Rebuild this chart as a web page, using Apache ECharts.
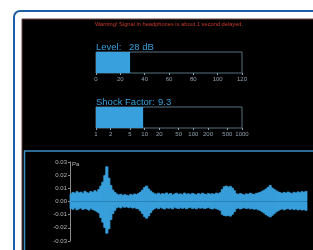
<!DOCTYPE html>
<html>
<head>
<meta charset="utf-8">
<script src="https://cdn.jsdelivr.net/npm/echarts@6/dist/echarts.min.js"></script>
<style>
  html, body { margin: 0; padding: 0; background: #fff; }
  #chart { width: 313px; height: 250px; }
</style>
</head>
<body>
<div id="chart"></div>
<script>
// meter readings
const levelValue = 28
const levelTicks = [0, 20, 40, 60, 80, 100, 120]
const shockValue = 9.3
const shockTicks = [1, 2, 5, 10, 20, 50, 100, 200, 500, 1000]

// waveform envelope (Pa)
const waveUpper = [
  0.0060, 0.0072, 0.0065, 0.0078, 0.0068, 0.0074, 0.0063, 0.0080, 0.0070, 0.0066, 0.0079, 0.0072, 0.0085, 0.0076,
  0.0095, 0.0120, 0.0150, 0.0200, 0.0267, 0.0180, 0.0125, 0.0090, 0.0072,
  0.0060, 0.0052, 0.0058, 0.0048, 0.0055, 0.0050, 0.0046, 0.0057, 0.0051, 0.0060, 0.0055, 0.0064,
  0.0075, 0.0090, 0.0110, 0.0120, 0.0098, 0.0082, 0.0070,
  0.0062, 0.0058, 0.0066, 0.0055, 0.0063, 0.0059, 0.0068, 0.0057, 0.0064, 0.0052, 0.0060, 0.0066, 0.0056, 0.0061,
  0.0054, 0.0067, 0.0058, 0.0062, 0.0055, 0.0065, 0.0059, 0.0053, 0.0063, 0.0057, 0.0066, 0.0060, 0.0054, 0.0064,
  0.0058, 0.0062, 0.0056, 0.0067, 0.0061, 0.0070,
  0.0095, 0.0115, 0.0120, 0.0112, 0.0118, 0.0105, 0.0085,
  0.0062, 0.0056, 0.0064, 0.0058, 0.0052, 0.0061, 0.0057, 0.0066, 0.0060, 0.0055, 0.0063, 0.0068,
  0.0072, 0.0080, 0.0088, 0.0098, 0.0110, 0.0125, 0.0105, 0.0094, 0.0084, 0.0076,
  0.0070, 0.0064, 0.0072, 0.0066, 0.0075, 0.0068, 0.0062, 0.0073, 0.0067, 0.0076, 0.0069, 0.0078, 0.0072, 0.0080
]
const waveLower = [
  -0.0055, -0.0062, -0.0050, -0.0066, -0.0058, -0.0052, -0.0064, -0.0056, -0.0060, -0.0068, -0.0054, -0.0063, -0.0070, -0.0078,
  -0.0090, -0.0125, -0.0160, -0.0200, -0.0244, -0.0210, -0.0140, -0.0095, -0.0070,
  -0.0050, -0.0044, -0.0052, -0.0040, -0.0047, -0.0042, -0.0050, -0.0045, -0.0053, -0.0048, -0.0056, -0.0060,
  -0.0075, -0.0095, -0.0118, -0.0130, -0.0112, -0.0088, -0.0068,
  -0.0056, -0.0050, -0.0058, -0.0047, -0.0054, -0.0060, -0.0049, -0.0055, -0.0051, -0.0059, -0.0046, -0.0053, -0.0057, -0.0048,
  -0.0055, -0.0050, -0.0058, -0.0052, -0.0047, -0.0056, -0.0051, -0.0059, -0.0049, -0.0054, -0.0050, -0.0057, -0.0053, -0.0048,
  -0.0055, -0.0060, -0.0052, -0.0058, -0.0063, -0.0070,
  -0.0100, -0.0110, -0.0112, -0.0108, -0.0114, -0.0100, -0.0080,
  -0.0058, -0.0052, -0.0060, -0.0054, -0.0049, -0.0057, -0.0051, -0.0059, -0.0055, -0.0062, -0.0058, -0.0066,
  -0.0070, -0.0080, -0.0090, -0.0102, -0.0112, -0.0120, -0.0108, -0.0095, -0.0082, -0.0072,
  -0.0064, -0.0058, -0.0066, -0.0060, -0.0055, -0.0063, -0.0057, -0.0065, -0.0059, -0.0067, -0.0061, -0.0068, -0.0063, -0.0070
]

const BLUE = '#38a0dc'
const TICK_TEXT = '#8fa0ae'
const FONT = 'Liberation Sans, Arial, sans-serif'

const chart = echarts.init(document.getElementById('chart'), null, { renderer: 'canvas' })

const meterLabel = (text, left, top) => ({
  text, left, top, padding: 0,
  textStyle: { color: BLUE, fontSize: 9.5, fontWeight: 'normal', fontFamily: FONT }
})

// envelope drawn as bars from 0 to each value, slightly wider than the band to close gaps
const waveBar = (data) => ({
  type: 'bar', xAxisIndex: 2, yAxisIndex: 2, data, silent: true,
  barWidth: 3, barGap: '-100%',
  itemStyle: { color: BLUE, borderColor: BLUE, borderWidth: 0.8 }
})

chart.setOption({
  animation: false,
  backgroundColor: '#fff',
  graphic: [
    // outer frame
    { type: 'rect', z: -10, shape: { x: 14, y: 11, width: 330, height: 270, r: 6 },
      style: { fill: '#fff', stroke: '#1d5ca6', lineWidth: 2 } },
    // black panel
    { type: 'rect', z: -9, shape: { x: 22, y: 19, width: 300, height: 260 },
      style: { fill: '#000', stroke: '#6a4040', lineWidth: 1 } },
    // lower plot panel
    { type: 'rect', z: -8, shape: { x: 24.5, y: 151, width: 300, height: 120 },
      style: { fill: '#000', stroke: '#3d8fc2', lineWidth: 1.5 } },
    { type: 'text', z: 5, x: 72, y: 161,
      style: { text: 'Pa', fill: '#b8b8b8', fontSize: 6, fontFamily: FONT } }
  ],
  title: [
    { text: 'Warning! Signal in headphones is about 1 second delayed.', left: 169, top: 21, textAlign: 'center', padding: 0,
      textStyle: { color: '#c8392c', fontSize: 5.7, fontWeight: 'normal', fontFamily: FONT } },
    meterLabel('Level:', 96, 42),
    meterLabel(levelValue + ' dB', 129, 42),
    meterLabel('Shock Factor:', 96, 97),
    meterLabel(String(shockValue), 158, 97)
  ],
  grid: [
    { left: 96, top: 52, width: 146, height: 21, show: true, borderColor: '#55717f', borderWidth: 1, backgroundColor: 'transparent' },
    { left: 96, top: 107, width: 146, height: 21, show: true, borderColor: '#55717f', borderWidth: 1, backgroundColor: 'transparent' },
    { left: 70, right: 6, top: 162, height: 79 }
  ],
  xAxis: [
    { gridIndex: 0, type: 'value', min: levelTicks[0], max: levelTicks[levelTicks.length - 1], interval: 20,
      axisLine: { lineStyle: { color: '#55717f' } },
      axisTick: { show: true, length: 2, lineStyle: { color: TICK_TEXT } },
      axisLabel: { color: TICK_TEXT, fontSize: 6, margin: 3, fontFamily: FONT },
      splitLine: { show: false } },
    { gridIndex: 1, type: 'log', logBase: 10, min: shockTicks[0], max: shockTicks[shockTicks.length - 1],
      axisLine: { lineStyle: { color: '#55717f' } },
      axisTick: { show: true, length: 2, customValues: shockTicks, lineStyle: { color: TICK_TEXT } },
      axisLabel: { color: TICK_TEXT, fontSize: 6, margin: 3, fontFamily: FONT, customValues: shockTicks,
        formatter: (v) => String(v) },
      minorTick: { show: false },
      splitLine: { show: false } },
    { gridIndex: 2, type: 'category', show: false }
  ],
  yAxis: [
    { gridIndex: 0, type: 'category', data: ['Level'], show: false },
    { gridIndex: 1, type: 'category', data: ['Shock Factor'], show: false },
    { gridIndex: 2, type: 'value', min: -0.03, max: 0.03, interval: 0.01,
      axisLine: { show: true, lineStyle: { color: '#8a8a8a' } },
      axisTick: { show: true, length: 2, lineStyle: { color: '#8a8a8a' } },
      axisLabel: { color: '#b8b8b8', fontSize: 6, margin: 3, fontFamily: FONT,
        formatter: (v) => v.toFixed(2) },
      splitLine: { show: false } }
  ],
  series: [
    { type: 'bar', xAxisIndex: 0, yAxisIndex: 0, data: [levelValue], barWidth: '100%',
      itemStyle: { color: BLUE }, silent: true },
    { type: 'bar', xAxisIndex: 1, yAxisIndex: 1, data: [shockValue], barWidth: '100%',
      itemStyle: { color: BLUE }, silent: true },
    waveBar(waveUpper),
    waveBar(waveLower)
  ]
})
</script>
</body>
</html>
